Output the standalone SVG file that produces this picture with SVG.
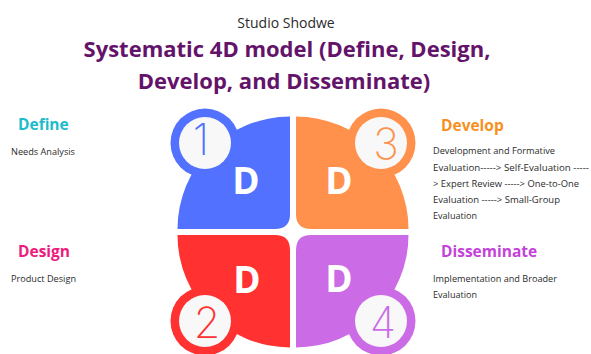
<svg xmlns="http://www.w3.org/2000/svg" width="591" height="354" viewBox="0 0 591 354">
  <style>
    .brand { font-family: "Open Sans", "Liberation Sans", sans-serif; font-size: 14px; fill: #2b2b2b; text-anchor: middle; }
    .title { font-family: "Open Sans", "Liberation Sans", sans-serif; font-size: 22px; font-weight: 700; fill: #64136a; text-anchor: middle; }
    .head { font-family: "Open Sans", "Liberation Sans", sans-serif; font-size: 15.5px; font-weight: 700; }
    .body { font-family: "Open Sans", "Liberation Sans", sans-serif; font-size: 8.8px; fill: #2b2b2b; }
    .letter { font-family: "Open Sans", "Liberation Sans", sans-serif; font-size: 37px; font-weight: 700; fill: #ffffff; text-anchor: middle; }
    .num { font-family: "Inter", "Lato", "DejaVu Sans", sans-serif; font-size: 43px; font-weight: 200; text-anchor: middle; }
    .badge { fill: #f8f8f8; }
  </style>

  <rect width="591" height="354" fill="#ffffff"/>

  <!-- heading -->
  <g id="heading">
    <text class="brand" x="286" y="28">Studio Shodwe</text>
    <text class="title" x="287" y="57">Systematic 4D model (Define, Design,</text>
    <text class="title" x="284" y="89">Develop, and Disseminate)</text>
  </g>

  <!-- quadrant 1: Define (blue) -->
  <g id="quad-define" fill="#5271ff">
    <path d="M290,116.5 L290,214 Q290,229 275,229 L177.5,229 A112.5 112.5 0 0 1 290,116.5 Z"/>
    <circle cx="205" cy="143" r="34.5"/>
    <circle class="badge" cx="205" cy="143" r="26"/>
    <text class="num" x="201" y="155" fill="#5271ff">1</text>
    <text class="letter" x="246" y="194">D</text>
  </g>

  <!-- quadrant 3: Develop (orange) -->
  <g id="quad-develop" fill="#ff914d">
    <path d="M296,116.5 A112.5 112.5 0 0 1 408.5,229 L311,229 Q296,229 296,214 Z"/>
    <circle cx="381" cy="143" r="34.5"/>
    <circle class="badge" cx="381" cy="143" r="26"/>
    <text class="num" x="386" y="159" fill="#ff914d">3</text>
    <text class="letter" x="339" y="194">D</text>
  </g>

  <!-- quadrant 2: Design (red) -->
  <g id="quad-design" fill="#ff3131">
    <path d="M177.5,235 L275,235 Q290,235 290,250 L290,347.5 A112.5 112.5 0 0 1 177.5,235 Z"/>
    <circle cx="205" cy="321" r="34.5"/>
    <circle class="badge" cx="205" cy="321" r="26"/>
    <text class="num" x="207" y="338" fill="#ff3131">2</text>
    <text class="letter" x="247" y="293">D</text>
  </g>

  <!-- quadrant 4: Disseminate (purple) -->
  <g id="quad-disseminate" fill="#cb6ce6">
    <path d="M296,347.5 L296,250 Q296,235 311,235 L408.5,235 A112.5 112.5 0 0 1 296,347.5 Z"/>
    <circle cx="381" cy="321" r="34.5"/>
    <circle class="badge" cx="381" cy="321" r="26"/>
    <text class="num" x="383" y="338" fill="#cb6ce6">4</text>
    <text class="letter" x="339" y="292">D</text>
  </g>

  <!-- side descriptions -->
  <g id="label-define">
    <text class="head" x="18" y="130" fill="#1cbccb">Define</text>
    <text class="body" x="11" y="155" textLength="64" lengthAdjust="spacingAndGlyphs">Needs Analysis</text>
  </g>
  <g id="label-design">
    <text class="head" x="18" y="257" fill="#ec1b7d">Design</text>
    <text class="body" x="11" y="282" textLength="65" lengthAdjust="spacingAndGlyphs">Product Design</text>
  </g>
  <g id="label-develop">
    <text class="head" x="441" y="131" fill="#f7901e">Develop</text>
    <text class="body" x="433" y="154" textLength="122" lengthAdjust="spacingAndGlyphs">Development and Formative</text>
    <text class="body" x="433" y="171" textLength="156" lengthAdjust="spacingAndGlyphs">Evaluation-----&gt; Self-Evaluation -----</text>
    <text class="body" x="433" y="187" textLength="146" lengthAdjust="spacingAndGlyphs">&gt; Expert Review -----&gt; One-to-One</text>
    <text class="body" x="433" y="203" textLength="127" lengthAdjust="spacingAndGlyphs">Evaluation -----&gt; Small-Group</text>
    <text class="body" x="433" y="219" textLength="44" lengthAdjust="spacingAndGlyphs">Evaluation</text>
  </g>
  <g id="label-disseminate">
    <text class="head" x="441" y="257" fill="#c443d8">Disseminate</text>
    <text class="body" x="433" y="282" textLength="124" lengthAdjust="spacingAndGlyphs">Implementation and Broader</text>
    <text class="body" x="433" y="298" textLength="44" lengthAdjust="spacingAndGlyphs">Evaluation</text>
  </g>

  <g id="connectors"/>
</svg>
